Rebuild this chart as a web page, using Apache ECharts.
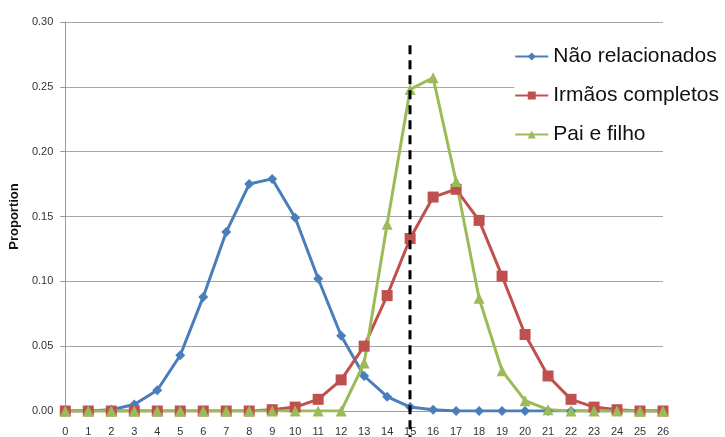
<!DOCTYPE html>
<html>
<head>
<meta charset="utf-8">
<script src="https://cdn.jsdelivr.net/npm/echarts@6/dist/echarts.min.js"></script>
<style>
  html, body { margin: 0; padding: 0; background: #fff; }
  #chart { width: 725px; height: 437px; }
</style>
</head>
<body>
<div id="chart"></div>
<script>
const categories = ["0", "1", "2", "3", "4", "5", "6", "7", "8", "9", "10", "11", "12", "13",
  "14", "15", "16", "17", "18", "19", "20", "21", "22", "23", "24", "25", "26"];

const naoRelacionados = [0, 0, 0.001, 0.005, 0.016, 0.043, 0.088, 0.138, 0.175, 0.179, 0.149,
  0.102, 0.058, 0.027, 0.011, 0.003, 0.001, 0, 0, 0, 0, 0, 0, 0, 0, 0, 0];

const irmaosCompletos = [0, 0, 0, 0, 0, 0, 0, 0, 0, 0.001, 0.003, 0.009, 0.024, 0.050, 0.089,
  0.133, 0.165, 0.171, 0.147, 0.104, 0.059, 0.027, 0.009, 0.003, 0.001, 0, 0];

const paiEFilho = [0, 0, 0, 0, 0, 0, 0, 0, 0, 0, 0, 0, 0, 0.037, 0.144, 0.248, 0.257, 0.177,
  0.087, 0.031, 0.008, 0.001, 0, 0, 0, 0, 0];

// dashed cut-off line at 15, runs from near the top down through the tick labels
const cutoffX = "15";
const cutoffY = [0.282, -0.02];

const font = "Liberation Sans, Arial, sans-serif";
const chart = echarts.init(document.getElementById("chart"));

chart.setOption({
  backgroundColor: "#fff",
  animation: false,
  textStyle: { fontFamily: font },
  grid: [
    { left: 65, right: 62, top: 22, bottom: 26 },
    // overlay grid: same x scale, y extended below zero so the cut-off line can pass the axis
    { left: 65, right: 62, top: 22, bottom: 0 },
  ],
  legend: {
    orient: "vertical",
    right: 0,
    top: 42,
    itemGap: 18,
    itemWidth: 33,
    itemHeight: 10,
    backgroundColor: "#fff",
    padding: [4, 6, 4, 0],
    textStyle: { fontSize: 21, color: "#111", fontFamily: font },
    data: ["Não relacionados", "Irmãos completos", "Pai e filho"],
  },
  xAxis: [
    {
      type: "category",
      data: categories,
      boundaryGap: false,
      axisLine: { lineStyle: { color: "#999", width: 1 } },
      axisTick: { show: false },
      axisLabel: { color: "#333", fontSize: 11, margin: 15, interval: 0 },
      splitLine: { show: false },
    },
    {
      type: "category",
      gridIndex: 1,
      data: categories,
      boundaryGap: false,
      show: false,
    },
  ],
  yAxis: [
    {
      type: "value",
      min: 0,
      max: 0.3,
      interval: 0.05,
      name: "Proportion",
      nameLocation: "middle",
      nameGap: 44,
      nameTextStyle: { fontSize: 13, fontWeight: "bold", color: "#111", fontFamily: font },
      axisLine: { show: true, lineStyle: { color: "#999", width: 1 } },
      axisTick: { show: true, length: 5, lineStyle: { color: "#999" } },
      axisLabel: { color: "#333", fontSize: 11, margin: 12, formatter: (v) => v.toFixed(2) },
      splitLine: { lineStyle: { color: "#a6a6a6", width: 1.2 } },
    },
    {
      type: "value",
      gridIndex: 1,
      min: -0.02,
      max: 0.3,
      show: false,
      splitLine: { show: false },
    },
  ],
  series: [
    {
      name: "Não relacionados",
      type: "line",
      data: naoRelacionados,
      symbol: "diamond",
      symbolSize: 10,
      color: "#4a7ebb",
      lineStyle: { width: 3 },
    },
    {
      name: "Irmãos completos",
      type: "line",
      data: irmaosCompletos,
      symbol: "rect",
      symbolSize: 11,
      color: "#c0504d",
      lineStyle: { width: 3 },
    },
    {
      name: "Pai e filho",
      type: "line",
      data: paiEFilho,
      symbol: "triangle",
      symbolSize: 11,
      color: "#9bbb59",
      lineStyle: { width: 3 },
    },
    {
      name: "cutoff",
      type: "line",
      xAxisIndex: 1,
      yAxisIndex: 1,
      data: cutoffY.map((y) => [cutoffX, y]),
      symbol: "none",
      silent: true,
      z: 5,
      lineStyle: { type: [9, 6], color: "#000", width: 3 },
    },
  ],
});
</script>
</body>
</html>
